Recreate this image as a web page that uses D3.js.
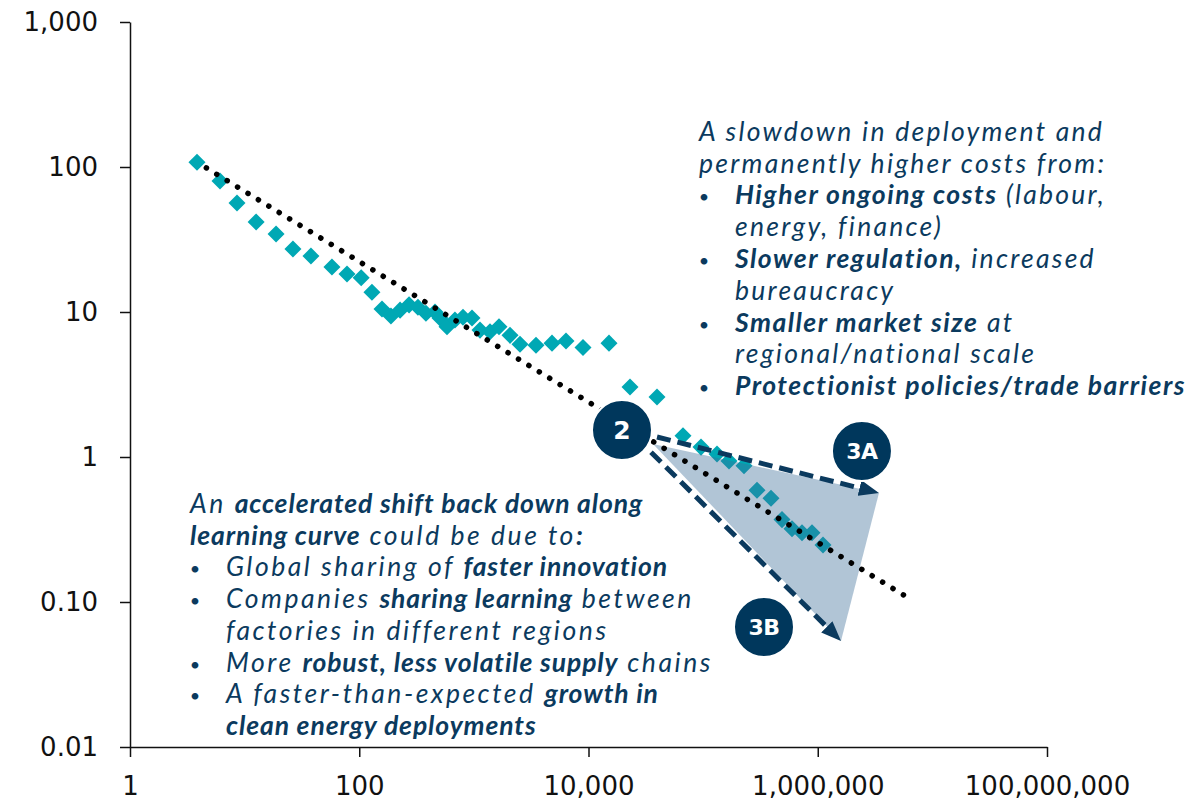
<!DOCTYPE html>
<html>
<head>
<meta charset="utf-8">
<script src="https://cdn.jsdelivr.net/npm/d3@7"></script>
<style>
  body { margin: 0; background: #fff; }
  svg text { font-family: "DejaVu Sans", sans-serif; }
  .note text { white-space: pre; font-family: Lato, "DejaVu Sans", sans-serif; }
</style>
</head>
<body>
<div class="container"></div>
<script>
// cumulative deployment (x) vs unit cost (y)
const deployment = [3.84, 6.1, 8.58, 12.6, 18.8, 26.4, 37.9, 57.8, 78.2, 104,
                    129, 158, 189, 227, 272, 325, 382, 458, 506, 583,
                    684, 804, 963, 1131, 1383, 1657, 2067, 2526, 3483, 4804,
                    6363, 8954, 15095, 23020, 39590, 66740, 95830, 132200, 168200, 227300,
                    295100, 391000, 487600, 596300, 728800, 891200, 1111000];
const unitCost =   [108, 80.1, 56.5, 41.8, 34.5, 27.2, 24.3, 20.4, 18.3, 17.2,
                    13.7, 10.5, 9.4, 10.3, 11.2, 10.8, 9.8, 10.0, 9.1, 7.9,
                    8.8, 9.2, 9.1, 7.5, 7.3, 7.9, 6.9, 6.0, 5.9, 6.1,
                    6.3, 5.7, 6.1, 3.04, 2.59, 1.40, 1.17, 1.05, 0.94, 0.87,
                    0.59, 0.52, 0.37, 0.32, 0.30, 0.30, 0.247];

// fitted learning curve (two ends)
const trendX = [3.84, 6.64e6];
const trendY = [108, 0.103];

const xTicks = [1, 100, 1e4, 1e6, 1e8];
const xTickLabels = ["1", "100", "10,000", "1,000,000", "100,000,000"];
const yTicks = [0.01, 0.1, 1, 10, 100, 1000];
const yTickLabels = ["0.01", "0.10", "1", "10", "100", "1,000"];

// scenario badges
const badgeLabels = ["2", "3A", "3B"];
const badgeX = [19600, 2.43e6, 339700];
const badgeY = [1.535, 1.10, 0.0672];

// scenario arrows: 3A (slower) and 3B (faster)
const arrowFromX = [39600, 35100];
const arrowFromY = [1.374, 1.08];
const arrowToX = [3.42e6, 1.595e6];
const arrowToY = [0.565, 0.0538];
const fanApex = [36530, 1.23];

const rightNote = [
  {parts: [["A slowdown in deployment and", 0]], end: 1108},
  {parts: [["permanently higher costs from:", 0]], end: 1097},
  {bullet: 1, parts: [["Higher ongoing costs", 1], [" (labour,", 0]], end: 1112},
  {indent: 1, parts: [["energy, finance)", 0]], end: 947},
  {bullet: 1, parts: [["Slower regulation,", 1], [" increased", 0]], end: 1098},
  {indent: 1, parts: [["bureaucracy", 0]], end: 903},
  {bullet: 1, parts: [["Smaller market size", 1], [" at", 0]], end: 1017},
  {indent: 1, parts: [["regional/national scale", 0]], end: 1033},
  {bullet: 1, parts: [["Protectionist policies/trade barriers", 1]], end: 1180}
];

const leftNote = [
  {parts: [["An ", 0], ["accelerated shift back down along", 1]], end: 686},
  {parts: [["learning curve", 1], [" could be due to", 0], [":", 1]], end: 597},
  {bullet: 1, parts: [["Global sharing of ", 0], ["faster innovation", 1]], end: 665},
  {bullet: 1, parts: [["Companies ", 0], ["sharing learning", 1], [" between", 0]], end: 713},
  {indent: 1, parts: [["factories in different regions", 0]], end: 609},
  {bullet: 1, parts: [["More ", 0], ["robust, less volatile supply", 1], [" chains", 0]], end: 666},
  {bullet: 1, parts: [["A faster-than-expected ", 0], ["growth in", 1]], end: 654},
  {indent: 1, parts: [["clean energy deployments", 1]], end: 514}
];

const navy = "#0b3a5e";
const teal = "#00a8b4";

const W = 1191, H = 804;
const margin = {top: 22, right: 144, bottom: 57, left: 130};
const width = W - margin.left - margin.right;
const height = H - margin.top - margin.bottom;

const root = d3.select(".container")
  .append("svg")
    .attr("width", W)
    .attr("height", H);

const svg = root.append("g")
    .attr("transform", "translate(" + margin.left + "," + margin.top + ")");

const x = d3.scaleLog().domain([1, 1e8]).range([0, width]);
const y = d3.scaleLog().domain([0.01, 1000]).range([height, 0]);

// axes
const yAxis = svg.append("g")
  .call(d3.axisLeft(y)
    .tickValues(yTicks)
    .tickFormat((d, i) => yTickLabels[i])
    .tickSize(10)
    .tickSizeOuter(0)
    .tickPadding(22));

const xAxis = svg.append("g")
  .attr("transform", "translate(0," + height + ")")
  .call(d3.axisBottom(x)
    .tickValues(xTicks)
    .tickFormat((d, i) => xTickLabels[i])
    .tickSize(10)
    .tickSizeOuter(0)
    .tickPadding(20));

[xAxis, yAxis].forEach(ax => {
  ax.select(".domain").attr("stroke", "#111").attr("stroke-width", 1.5);
  ax.selectAll(".tick line").attr("stroke", "#111").attr("stroke-width", 1.5);
  ax.selectAll(".tick text")
    .attr("fill", "#111")
    .style("font-family", "'DejaVu Sans', sans-serif")
    .style("font-size", "26px");
});

// data points
const pts = deployment.map((d, i) => ({x: d, y: unitCost[i]}));

svg.selectAll(".pt")
  .data(pts)
  .enter()
  .append("path")
    .attr("class", "pt")
    .attr("d", d3.symbol(d3.symbolSquare, 145))
    .attr("transform", d => "translate(" + x(d.x) + "," + y(d.y) + ") rotate(45)")
    .attr("fill", teal);

// shaded fan between the two scenarios
const fan = [fanApex, [arrowToX[0], arrowToY[0]], [arrowToX[1], arrowToY[1]]];
svg.append("path")
  .attr("d", "M" + fan.map(p => x(p[0]) + "," + y(p[1])).join("L") + "Z")
  .attr("fill", "#3d6e98")
  .attr("fill-opacity", 0.4);

// learning curve trend
svg.append("line")
  .attr("x1", x(trendX[0])).attr("y1", y(trendY[0]))
  .attr("x2", x(trendX[1])).attr("y2", y(trendY[1]))
  .attr("stroke", "#000")
  .attr("stroke-width", 5.5)
  .attr("stroke-linecap", "round")
  .attr("stroke-dasharray", "0.1,12.1")
  .attr("stroke-dashoffset", -11);

// arrows
root.append("defs").append("marker")
  .attr("id", "head")
  .attr("markerUnits", "userSpaceOnUse")
  .attr("viewBox", "0 -8 20 16")
  .attr("refX", 4)
  .attr("refY", 0)
  .attr("markerWidth", 20)
  .attr("markerHeight", 16)
  .attr("orient", "auto")
  .append("path")
    .attr("d", "M0,-8L20,0L0,8Z")
    .attr("fill", navy);

arrowFromX.forEach((fx, i) => {
  const x1 = x(fx), y1 = y(arrowFromY[i]);
  const x2 = x(arrowToX[i]), y2 = y(arrowToY[i]);
  const len = Math.hypot(x2 - x1, y2 - y1);
  const k = (len - 16) / len;
  svg.append("line")
    .attr("x1", x1).attr("y1", y1)
    .attr("x2", x1 + (x2 - x1) * k).attr("y2", y1 + (y2 - y1) * k)
    .attr("stroke", navy)
    .attr("stroke-width", 5)
    .attr("stroke-dasharray", "14,7")
    .attr("marker-end", "url(#head)");
});

// badges
const badges = svg.selectAll(".badge")
  .data(badgeLabels)
  .enter()
  .append("g")
    .attr("class", "badge")
    .attr("transform", (d, i) => "translate(" + x(badgeX[i]) + "," + y(badgeY[i]) + ")");

badges.append("circle")
  .attr("r", 30)
  .attr("fill", "#00375c")
  .attr("stroke", "#fff")
  .attr("stroke-width", 2);

badges.append("text")
  .attr("text-anchor", "middle")
  .attr("dy", "0.36em")
  .attr("fill", "#fff")
  .attr("font-weight", 700)
  .attr("font-size", d => d.length > 1 ? 22 : 25)
  .attr("letter-spacing", d => d.length > 1 ? -0.5 : 0)
  .text(d => d);

// annotation text
function note(lines, o) {
  const g = root.append("g").attr("class", "note");
  const rows = [];
  lines.forEach((ln, i) => {
    const yb = o.top + i * o.lineH;
    if (ln.bullet) {
      g.append("text")
        .attr("x", o.bulletX)
        .attr("y", yb - 1)
        .attr("text-anchor", "middle")
        .attr("font-size", 18)
        .attr("fill", navy)
        .text("\u2022");
    }
    const x0 = (ln.bullet || ln.indent) ? o.indentX : o.x;
    const t = g.append("text")
      .attr("x", x0)
      .attr("y", yb)
      .attr("font-style", "italic")
      .attr("font-size", o.size)
      .attr("fill", navy);
    ln.parts.forEach(p => t.append("tspan")
      .attr("class", p[1] ? "b" : "r")
      .attr("font-weight", p[1] ? 700 : 400)
      .text(p[0]));
    rows.push({t: t, want: ln.end - x0});
  });
  // widen with tracking (one value for regular runs, one for bold) to match line lengths
  let srr = 0, srb = 0, sbb = 0, sdr = 0, sdb = 0;
  rows.forEach(r => {
    let nR = 0, nB = 0;
    r.t.selectAll("tspan").each(function() {
      if (this.getAttribute("class") === "b") nB += this.textContent.length;
      else nR += this.textContent.length;
    });
    const d = r.want - r.t.node().getComputedTextLength();
    srr += nR * nR; srb += nR * nB; sbb += nB * nB; sdr += d * nR; sdb += d * nB;
  });
  const det = srr * sbb - srb * srb;
  const lr = (sdr * sbb - sdb * srb) / det;
  const lb = (srr * sdb - srb * sdr) / det;
  g.selectAll("tspan.r").attr("letter-spacing", lr);
  g.selectAll("tspan.b").attr("letter-spacing", lb);
}

note(rightNote, {x: 699, bulletX: 704, indentX: 735, top: 140.7, lineH: 31.8, size: 26.5});
note(leftNote, {x: 190, bulletX: 195, indentX: 226, top: 513, lineH: 31.7, size: 26.5});
</script>
</body>
</html>
